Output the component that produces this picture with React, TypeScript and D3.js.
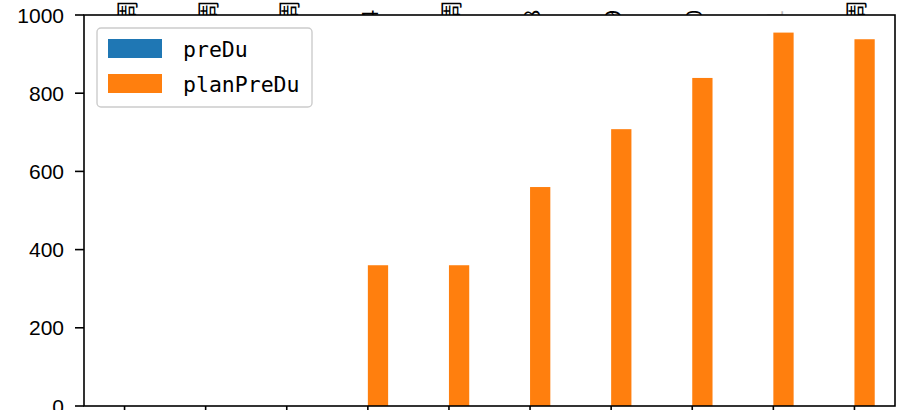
import React from "react";
import * as d3 from "d3";

const categories = ["0", "1", "2", "3", "4", "5", "6", "7", "8", "9"];
const topLabels = ["周", "周", "周", "4", "周", "8", "9", "0", "1", "周"];
const preDu = [0, 0, 0, 0, 0, 0, 0, 0, 0, 0];
const planPreDu = [0, 0, 0, 360, 360, 560, 708, 839, 955, 938];
const yTicks = [0, 200, 400, 600, 800, 1000];
const seriesNames = ["preDu", "planPreDu"];
const colors = ["#1f77b4", "#ff7f0e"];

const W = 897;
const H = 410;
const M = { left: 84, right: 895, top: 15, bottom: 406 };

export default function App() {
  const x = d3
    .scaleLinear()
    .domain([-0.5, categories.length - 0.5])
    .range([M.left, M.right]);
  const y = d3.scaleLinear().domain([0, 1000]).range([M.bottom, M.top]);
  const step = x(1) - x(0);
  const bw = step * 0.25;

  return (
    <svg
      width={W}
      height={H}
      style={{ position: "absolute", left: 0, top: 0, background: "#fff" }}
      fontFamily="'Liberation Sans', Arial, sans-serif"
    >
      {/* labels of the upper (cropped) subplot */}
      {topLabels.map((t, i) => (
        <text
          key={"tl" + i}
          transform={`translate(${x(i)},22) rotate(-90)`}
          fontSize={22}
          fontFamily="'Noto Sans CJK SC', sans-serif"
          dominantBaseline="central"
          textAnchor="start"
          fill={i === 8 ? "#bbb" : "#000"}
        >
          {t}
        </text>
      ))}
      <rect x={M.left} y={M.top} width={M.right - M.left} height={M.bottom - M.top} fill="#fff" />

      {/* bars */}
      {categories.map((c, i) => (
        <g key={"b" + i}>
          <rect
            x={x(i) - bw}
            y={y(preDu[i])}
            width={bw}
            height={y(0) - y(preDu[i])}
            fill={colors[0]}
          />
          <rect
            x={x(i)}
            y={y(planPreDu[i])}
            width={bw}
            height={y(0) - y(planPreDu[i])}
            fill={colors[1]}
          />
        </g>
      ))}

      {/* frame */}
      <rect
        x={M.left}
        y={M.top}
        width={M.right - M.left}
        height={M.bottom - M.top}
        fill="none"
        stroke="#000"
        strokeWidth={1.6}
      />

      {/* y ticks */}
      {yTicks.map((t) => (
        <g key={"y" + t}>
          <line x1={M.left - 9} x2={M.left} y1={y(t)} y2={y(t)} stroke="#000" strokeWidth={1.6} />
          <text
            x={M.left - 20}
            y={y(t)}
            textAnchor="end"
            dominantBaseline="central"
            fontSize={21}
            fill="#000"
          >
            {t}
          </text>
        </g>
      ))}

      {/* x ticks */}
      {categories.map((c, i) => (
        <line key={"xt" + i} x1={x(i)} x2={x(i)} y1={M.bottom} y2={M.bottom + 9} stroke="#000" strokeWidth={1.6} />
      ))}

      {/* legend */}
      <g>
        <rect x={97} y={28} width={215} height={79} rx={4} fill="#fff" fillOpacity={0.8} stroke="#ccc" strokeWidth={1.4} />
        {seriesNames.map((s, i) => (
          <g key={"l" + i}>
            <rect x={108} y={39 + i * 35} width={54} height={19} fill={colors[i]} />
            <text
              x={183}
              y={49 + i * 35}
              dominantBaseline="central"
              fontSize={21.5}
              fontFamily="'DejaVu Sans Mono', monospace"
              fill="#000"
            >
              {s}
            </text>
          </g>
        ))}
      </g>
    </svg>
  );
}
